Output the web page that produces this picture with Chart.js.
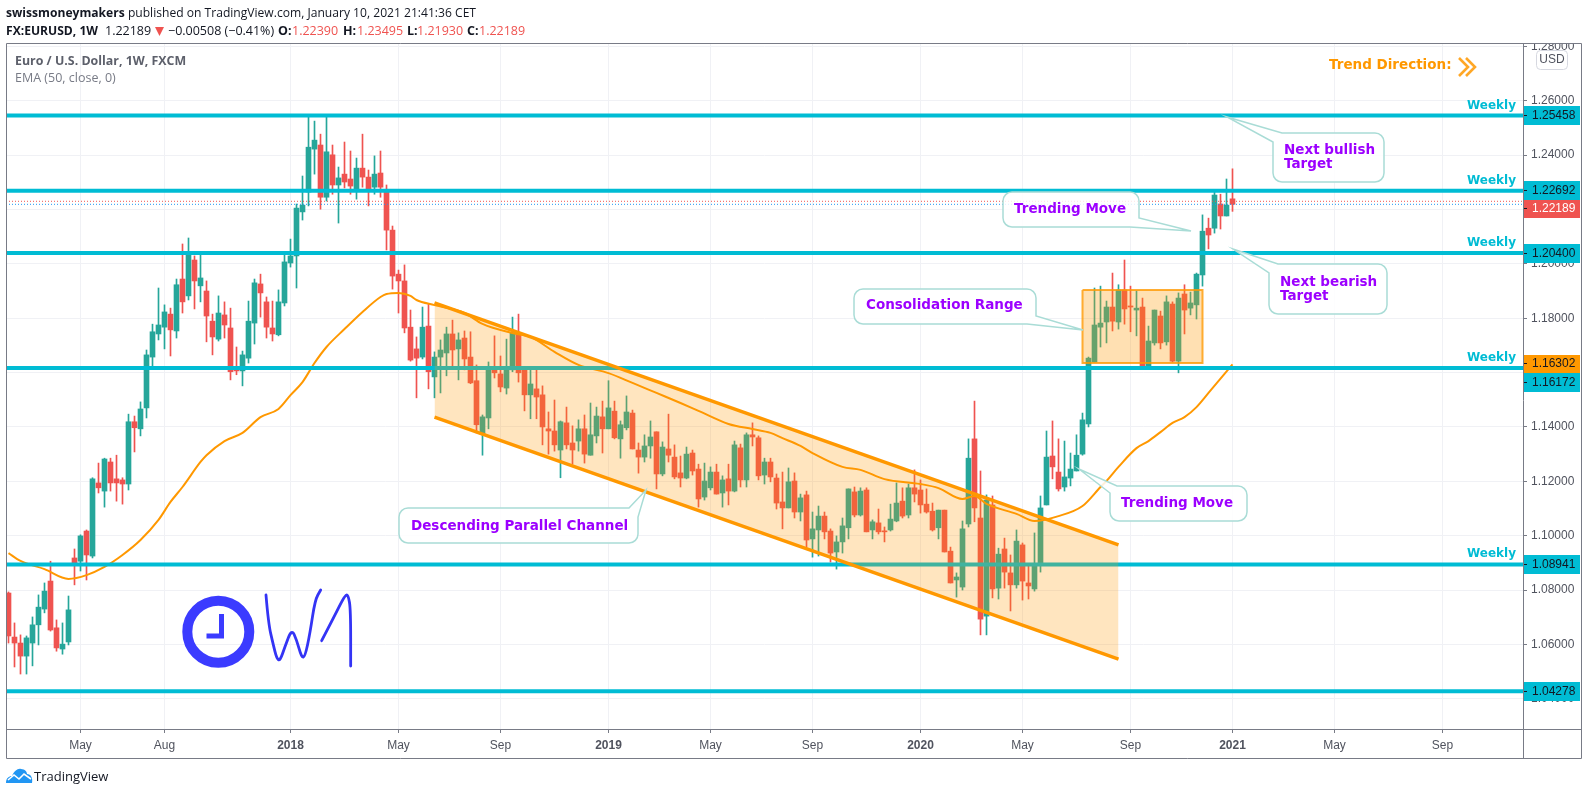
<!DOCTYPE html>
<html><head><meta charset="utf-8">
<script src="https://cdn.jsdelivr.net/npm/chart.js@4/dist/chart.umd.min.js"></script>
<style>
html,body{margin:0;padding:0;background:#fff;width:1588px;height:795px;overflow:hidden}
canvas{position:absolute;left:0;top:0}
.h{position:absolute;white-space:pre;color:#131722;font-family:"Open Sans",sans-serif;font-size:12.1px;line-height:16px}
.h b{font-weight:700}.r{color:#ef5350}
.v{font-size:12.5px;top:23px}
</style></head><body>
<canvas id="c" width="1588" height="795"></canvas>
<div class="h" style="left:6px;top:5px"><b>swissmoneymakers</b> published on TradingView.com, January 10, 2021 21:41:36 CET</div>
<div class="h v" style="left:6px;font-size:12.1px"><b>FX:EURUSD, 1W</b></div>
<div class="h v" style="left:105px">1.22189</div>
<svg style="position:absolute;left:155px;top:27px" width="9" height="9" viewBox="0 0 9 9"><path d="M0 0H9L4.5 9Z" fill="#ef5350"/></svg>
<div class="h v" style="left:168px">−0.00508 (−0.41%)</div>
<div class="h v" style="left:278px"><b>O:</b></div><div class="h v r" style="left:292px">1.22390</div>
<div class="h v" style="left:343px"><b>H:</b></div><div class="h v r" style="left:357px">1.23495</div>
<div class="h v" style="left:407px"><b>L:</b></div><div class="h v r" style="left:417px">1.21930</div>
<div class="h v" style="left:467px"><b>C:</b></div><div class="h v r" style="left:479px">1.22189</div>
<svg style="position:absolute;left:6px;top:768px" width="27" height="16" viewBox="0 0 27 16"><path d="M0 15 C0 10 3 8 6 8 C8 3 12 0 15 1 C19 1 21 4 21 6 C25 6 27 10 26 15 Z" fill="#2196f3"/><path d="M2 12 L8 7 L13 11 L18 6 L25 11" fill="none" stroke="#fff" stroke-width="1.6"/></svg>
<div class="h" style="left:34px;top:768px;font-size:13px;color:#131722">TradingView</div>
<script>
const opens=[1.0789,1.0627,1.0605,1.0557,1.0605,1.0672,1.0730,1.0833,1.0661,1.0583,1.0609,1.0918,1.0906,1.1017,1.0925,1.1194,1.1164,1.1271,1.1209,1.1205,
1.1190,1.1419,1.1393,1.1470,1.1657,1.1742,1.1767,1.1815,1.1753,1.1944,1.1882,1.2014,1.1919,1.1900,1.1789,1.1723,1.1812,1.1764,1.1610,1.1606,
1.1653,1.1782,1.1926,1.1860,1.1764,1.1739,1.1856,1.2003,1.2029,1.2191,1.2264,1.2422,1.2437,1.2245,1.2401,1.2290,1.2330,1.2312,1.2271,1.2352,
1.2319,1.2282,1.2334,1.2267,1.2124,1.1962,1.1937,1.1767,1.1687,1.1657,1.1771,1.1584,1.1657,1.1672,1.1742,1.1687,1.1727,1.1657,1.1570,1.1374,
1.1433,1.1610,1.1595,1.1543,1.1610,1.1746,1.1610,1.1518,1.1540,1.1518,1.1393,1.1385,1.1315,1.1415,1.1341,1.1348,1.1393,1.1296,1.1367,1.1437,
1.1393,1.1458,1.1356,1.1397,1.1451,1.1315,1.1289,1.1330,1.1382,1.1227,1.1319,1.1289,1.1231,1.1212,1.1304,1.1245,1.1142,1.1176,1.1234,1.1157,
1.1209,1.1164,1.1323,1.1205,1.1371,1.1360,1.1223,1.1271,1.1212,1.1124,1.1102,1.1201,1.1087,1.1150,1.0988,1.1021,1.1072,1.1017,1.0940,1.0977,
1.1029,1.1161,1.1076,1.1168,1.1021,1.1047,1.1017,1.1021,1.1054,1.1127,1.1076,1.1176,1.1168,1.1116,1.1090,1.1029,1.1094,1.0943,1.0837,1.0811,
1.1043,1.1356,1.1065,1.0704,1.1113,1.0807,1.0951,1.0863,1.0819,1.0966,1.0826,1.0804,1.0892,1.1113,1.1293,1.1234,1.1179,1.1212,1.1238,1.1300,
1.1411,1.1639,1.1767,1.1786,1.1841,1.1786,1.1904,1.1845,1.1830,1.1841,1.1620,1.1709,1.1808,1.1713,1.1852,1.1642,1.1889,1.1837,1.1849,1.1959,
1.2131,1.2131,1.2220,1.2176,1.22390];
const highs=[1.0793,1.0679,1.0635,1.0631,1.0701,1.0782,1.0826,1.0906,1.0690,1.0679,1.0778,1.0951,1.1003,1.1021,1.1213,1.1267,1.1285,1.1285,1.1296,1.1213,
1.1447,1.1440,1.1492,1.1683,1.1778,1.1911,1.1849,1.1837,1.1944,1.2073,1.2095,1.2029,1.2033,1.1937,1.1815,1.1882,1.1860,1.1837,1.1694,1.1679,
1.1863,1.1944,1.1962,1.1878,1.1863,1.1904,1.2036,1.2091,1.2220,1.2323,1.2540,1.2525,1.2477,1.2540,1.2437,1.2356,1.2448,1.2415,1.2389,1.2477,
1.2345,1.2397,1.2415,1.2290,1.2139,1.1977,1.1996,1.1830,1.1731,1.1841,1.1852,1.1676,1.1720,1.1767,1.1793,1.1746,1.1753,1.1750,1.1628,1.1444,
1.1639,1.1735,1.1661,1.1723,1.1804,1.1815,1.1613,1.1610,1.1610,1.1551,1.1455,1.1499,1.1422,1.1473,1.1404,1.1426,1.1444,1.1488,1.1473,1.1495,
1.1570,1.1495,1.1422,1.1514,1.1462,1.1341,1.1371,1.1422,1.1382,1.1345,1.1447,1.1334,1.1293,1.1326,1.1315,1.1263,1.1267,1.1253,1.1263,1.1220,
1.1263,1.1348,1.1337,1.1378,1.1415,1.1367,1.1285,1.1285,1.1227,1.1234,1.1249,1.1231,1.1153,1.1164,1.1087,1.1109,1.1087,1.1025,1.0999,1.1065,
1.1172,1.1179,1.1176,1.1176,1.1058,1.1098,1.1032,1.1116,1.1194,1.1176,1.1190,1.1242,1.1205,1.1172,1.1120,1.1094,1.1094,1.0958,1.0863,1.1054,
1.1356,1.1495,1.1238,1.1150,1.1146,1.0954,1.0991,1.0929,1.1021,1.0973,1.0892,1.1010,1.1146,1.1385,1.1422,1.1356,1.1348,1.1304,1.1371,1.1451,
1.1657,1.1911,1.1918,1.1863,1.1966,1.1923,1.2014,1.1918,1.1900,1.1874,1.1771,1.1830,1.1826,1.1882,1.1860,1.1893,1.1923,1.1896,1.1966,1.2180,
1.2168,1.2267,1.2256,1.2312,1.23495];
const lows=[1.0605,1.0517,1.0491,1.0491,1.0521,1.0598,1.0716,1.0649,1.0575,1.0564,1.0598,1.0819,1.0870,1.0837,1.0918,1.1157,1.1105,1.1164,1.1127,1.1116,
1.1168,1.1308,1.1367,1.1433,1.1624,1.1720,1.1687,1.1661,1.1727,1.1819,1.1867,1.1834,1.1860,1.1713,1.1665,1.1716,1.1727,1.1573,1.1592,1.1551,
1.1635,1.1705,1.1804,1.1727,1.1716,1.1735,1.1845,1.1988,1.1911,1.2161,1.2213,1.2330,1.2201,1.2231,1.2256,1.2150,1.2279,1.2256,1.2238,1.2282,
1.2213,1.2256,1.2245,1.2051,1.1907,1.1819,1.1746,1.1642,1.1507,1.1650,1.1540,1.1507,1.1525,1.1588,1.1617,1.1573,1.1610,1.1559,1.1378,1.1296,
1.1393,1.1580,1.1529,1.1521,1.1603,1.1565,1.1459,1.1430,1.1430,1.1334,1.1300,1.1311,1.1213,1.1319,1.1263,1.1311,1.1267,1.1296,1.1341,1.1304,
1.1393,1.1356,1.1285,1.1389,1.1319,1.1230,1.1271,1.1285,1.1172,1.1220,1.1271,1.1209,1.1179,1.1209,1.1223,1.1105,1.1131,1.1168,1.1153,1.1105,
1.1113,1.1161,1.1179,1.1179,1.1330,1.1205,1.1190,1.1198,1.1098,1.1025,1.1102,1.1065,1.1054,1.0958,1.0921,1.0925,1.0988,1.0903,1.0877,1.0936,
1.0988,1.1069,1.1072,1.1014,1.0988,1.1006,1.0977,1.1017,1.1051,1.1065,1.1065,1.1124,1.1083,1.1083,1.1017,1.0988,1.0940,1.0826,1.0774,1.0800,
1.1032,1.1051,1.0635,1.0635,1.0771,1.0767,1.0807,1.0723,1.0807,1.0763,1.0767,1.0796,1.0866,1.1113,1.1209,1.1164,1.1164,1.1183,1.1238,1.1296,
1.1400,1.1639,1.1694,1.1709,1.1753,1.1760,1.1778,1.1750,1.1735,1.1620,1.1620,1.1701,1.1687,1.1701,1.1639,1.1599,1.1742,1.1812,1.1797,1.1918,
1.2055,1.2113,1.2128,1.2176,1.21930];
const closes=[1.0631,1.0605,1.0557,1.0624,1.0672,1.0737,1.0796,1.0653,1.0587,1.0601,1.0727,1.0895,1.0999,1.0929,1.1209,1.1176,1.1282,1.1194,1.1194,1.1190,
1.1419,1.1397,1.1466,1.1665,1.1750,1.1775,1.1823,1.1757,1.1923,1.1860,1.2033,1.1937,1.1948,1.1808,1.1731,1.1819,1.1775,1.1603,1.1606,1.1665,
1.1789,1.1930,1.1893,1.1767,1.1742,1.1860,1.2007,1.2029,1.2205,1.2216,1.2429,1.2455,1.2245,1.2412,1.2290,1.2316,1.2301,1.2286,1.2352,1.2319,
1.2275,1.2330,1.2282,1.2124,1.1955,1.1937,1.1764,1.1646,1.1653,1.1767,1.1603,1.1657,1.1683,1.1742,1.1683,1.1720,1.1650,1.1562,1.1408,1.1437,
1.1610,1.1599,1.1547,1.1610,1.1746,1.1599,1.1518,1.1558,1.1510,1.1400,1.1385,1.1334,1.1419,1.1334,1.1315,1.1393,1.1300,1.1371,1.1440,1.1393,
1.1470,1.1360,1.1408,1.1455,1.1319,1.1289,1.1330,1.1363,1.1227,1.1326,1.1296,1.1216,1.1212,1.1300,1.1238,1.1135,1.1201,1.1234,1.1153,1.1205,
1.1164,1.1334,1.1205,1.1371,1.1363,1.1220,1.1271,1.1216,1.1120,1.1102,1.1198,1.1087,1.1139,1.0984,1.1025,1.1072,1.1014,1.0936,1.0977,1.1036,
1.1172,1.1076,1.1164,1.1014,1.1051,1.1014,1.1014,1.1061,1.1120,1.1072,1.1176,1.1153,1.1113,1.1087,1.1021,1.1094,1.0940,1.0826,1.0848,1.1025,
1.1285,1.1102,1.0693,1.1131,1.0804,1.0932,1.0866,1.0819,1.0980,1.0833,1.0815,1.0892,1.1102,1.1289,1.1253,1.1172,1.1216,1.1245,1.1296,1.1426,
1.1653,1.1775,1.1782,1.1841,1.1789,1.1904,1.1834,1.1841,1.1837,1.1620,1.1716,1.1830,1.1709,1.1860,1.1642,1.1874,1.1830,1.1856,1.1962,1.2120,
1.2106,1.2253,1.2176,1.2216,1.22189];

const emaBars=[0,2,6,10,13,16,19,22,25,27,29,32,33,36,39,42,45,47,49,51,53,56,59,62,63,65,67,68,71,76,79,84,87,91,95,100,104,108,112,115,120,124,127,129,132,134,139,142,146,152,155,159,161,163,168,171,175,179,182,183,185,188,190,192,194,196,198,200,204];
const emaValues=[1.0936,1.0907,1.0877,1.0841,1.0855,1.0885,1.0929,1.0984,1.1058,1.1124,1.1179,1.1271,1.1296,1.1348,1.1378,1.1436,1.1466,1.1517,1.1565,1.1635,1.1694,1.1760,1.1823,1.1878,1.1889,1.1893,1.1882,1.1867,1.1848,1.1819,1.1779,1.1745,1.1731,1.1676,1.1628,1.1598,1.1562,1.1525,1.1488,1.1459,1.1411,1.1392,1.1378,1.1359,1.1330,1.1304,1.1253,1.1242,1.1208,1.1190,1.1175,1.1135,1.1146,1.1117,1.1080,1.1054,1.1072,1.1109,1.1179,1.1201,1.1253,1.1322,1.1348,1.1381,1.1415,1.1436,1.1473,1.1525,1.16302];

const weeklyLevels=[1.25458,1.22692,1.20400,1.16172,1.08941,1.04278];
const lastClose=1.22189, lastOpenLine=1.2230, lastEma=1.16302;
const channelBars=[71,185], channelUpper=[1.1856,1.0966], channelLower=[1.1436,1.0546];
const rangeBars=[179,199], rangeHigh=1.1904, rangeLow=1.1635;
const priceTicks=[1.04,1.06,1.08,1.10,1.12,1.14,1.16,1.18,1.20,1.22,1.24,1.26,1.28];
const timeTickBars=[12,26,47,65,82,100,117,134,152,169,187,204,221,239];
const timeTickLabels=['May','Aug','2018','May','Sep','2019','May','Sep','2020','May','Sep','2021','May','Sep'];

const UP='#26a69a',DOWN='#ef5350',CY='#00bcd4',OR='#ff9800',PUR='#9c00ff';
const XMIN=(6-8.5)/6, XMAX=(1523-8.5)/6, YMAX=1.28123, YMIN=1.02888;
const AXF='"Liberation Sans",sans-serif', CALLF='"DejaVu Sans",sans-serif';
const idx=opens.map((_,i)=>i);
const colors=idx.map(i=>closes[i]>=opens[i]?UP:DOWN);
const flat=(v,c,w,o,dash)=>({type:'line',data:[{x:XMIN,y:v},{x:XMAX,y:v}],borderColor:c,borderWidth:w,pointRadius:0,order:o,borderDash:dash||[],fill:false});

const datasets=[
 {type:'bar',label:'wick',data:idx.map(i=>({x:i,y:[lows[i],highs[i]]})),backgroundColor:colors,barThickness:1,grouped:false,order:20},
 {type:'bar',label:'body',data:idx.map(i=>({x:i,y:[opens[i],closes[i]]})),backgroundColor:colors,barThickness:5,grouped:false,minBarLength:1,order:19},
 {type:'line',label:'EMA',data:emaBars.map((b,i)=>({x:b,y:emaValues[i]})),borderColor:OR,borderWidth:2,pointRadius:0,cubicInterpolationMode:'monotone',order:18,fill:false},
 flat(lastOpenLine,DOWN,1,17,[1,2]),
 flat(lastClose,'#2196f3',1,17,[1,2]),
 ...weeklyLevels.map(v=>flat(v,CY,4,16)),
 {type:'line',label:'channel top',data:channelBars.map((b,i)=>({x:b,y:channelUpper[i]})),borderColor:OR,borderWidth:3.5,pointRadius:0,order:5,fill:'+1',backgroundColor:'rgba(255,152,0,0.25)'},
 {type:'line',label:'channel bottom',data:channelBars.map((b,i)=>({x:b,y:channelLower[i]})),borderColor:OR,borderWidth:3.5,pointRadius:0,order:4,fill:false},
 {type:'line',label:'range top',data:rangeBars.map(b=>({x:b,y:rangeHigh})),borderWidth:0,pointRadius:0,order:3,fill:'+1',backgroundColor:'rgba(255,152,0,0.3)'},
 {type:'line',label:'range bottom',data:rangeBars.map(b=>({x:b,y:rangeLow})),borderWidth:0,pointRadius:0,order:2,fill:false},
 {type:'line',label:'range box',data:[{x:rangeBars[0],y:rangeHigh},{x:rangeBars[1],y:rangeHigh},{x:rangeBars[1],y:rangeLow},{x:rangeBars[0],y:rangeLow},{x:rangeBars[0],y:rangeHigh}],borderColor:'rgba(255,152,0,0.8)',borderWidth:2,pointRadius:0,order:1,fill:false}
];

const callouts=[
 {lines:['Next bullish','Target'],box:[1273,133,1384,182],corner:'tl',tip:[1227,117],a:[1273,142],b:[1282,133],tx:1284,ty:[150,164]},
 {lines:['Next bearish','Target'],box:[1269,264,1387,314],corner:'tl',tip:[1233,249],a:[1269,273],b:[1278,264],tx:1280,ty:[282,296]},
 {lines:['Trending Move'],box:[1003,192,1139,227],corner:'br',tip:[1191,231],a:[1139,218],b:[1130,227],tx:1014,ty:[209]},
 {lines:['Consolidation Range'],box:[854,289,1036,324],corner:'br',tip:[1083,330],a:[1036,316],b:[1027,324],tx:866,ty:[305]},
 {lines:['Descending Parallel Channel'],box:[399,508,638,543],corner:'tr',tip:[646,490],a:[629,508],b:[638,517],tx:411,ty:[526]},
 {lines:['Trending Move'],box:[1110,486,1247,521],corner:'tl',tip:[1079,469],a:[1110,493],b:[1117,486],tx:1121,ty:[503]}
];
const tags=[
 {t:'1.25458',y0:106,y1:125,bg:CY,fg:'#131722'},{t:'1.22692',y0:181,y1:200,bg:CY,fg:'#131722'},
 {t:'1.22189',y0:200,y1:218,bg:DOWN,fg:'#fff'},{t:'1.20400',y0:244,y1:263,bg:CY,fg:'#131722'},
 {t:'1.16302',y0:355,y1:373,bg:OR,fg:'#131722'},{t:'1.16172',y0:373,y1:392,bg:CY,fg:'#131722'},
 {t:'1.08941',y0:555,y1:574,bg:CY,fg:'#131722'},{t:'1.04278',y0:682,y1:701,bg:CY,fg:'#131722'}
];
function bubble(c,o){
 const [x0,y0,x1,y1]=o.box,r=9,pt=()=>{c.lineTo(o.a[0],o.a[1]);c.lineTo(o.tip[0],o.tip[1]);c.lineTo(o.b[0],o.b[1]);};
 c.beginPath();
 c.moveTo(x0+r,y0);
 if(o.corner==='tr')pt();else{c.lineTo(x1-r,y0);c.arcTo(x1,y0,x1,y0+r,r);}
 if(o.corner==='br')pt();else{c.lineTo(x1,y1-r);c.arcTo(x1,y1,x1-r,y1,r);}
 c.lineTo(x0+r,y1);c.arcTo(x0,y1,x0,y1-r,r);
 if(o.corner==='tl'){pt();}else{c.lineTo(x0,y0+r);c.arcTo(x0,y0,x0+r,y0,r);}
 c.closePath();
 c.fillStyle='rgba(255,255,255,0.85)';c.fill();
 c.strokeStyle='#a9dcd6';c.lineWidth=1.5;c.stroke();
 c.fillStyle=PUR;c.font='bold 13.5px '+CALLF;c.textAlign='left';c.textBaseline='middle';
 o.lines.forEach((l,i)=>c.fillText(l,o.tx,o.ty[i]));
}
const drawings={id:'drawings',afterDatasetsDraw(ch){
 const c=ch.ctx;c.save();
 callouts.forEach(o=>bubble(c,o));
 c.fillStyle=CY;c.font='bold 12px '+CALLF;c.textAlign='right';c.textBaseline='middle';
 [106,181,243,358,554].forEach(y=>c.fillText('Weekly',1516,y));
 c.fillStyle=OR;c.font='bold 13.5px '+CALLF;c.textAlign='left';c.fillText('Trend Direction:',1329,65);
 c.strokeStyle='#ffa726';c.lineWidth=2.6;
 [[1459,58],[1466,58]].forEach(([x,y])=>{c.beginPath();c.moveTo(x,y);c.lineTo(x+9,y+9);c.lineTo(x,y+18);c.stroke();});
 c.fillStyle='#5d606b';c.font='bold 12.4px "Open Sans",sans-serif';c.fillText('Euro / U.S. Dollar, 1W, FXCM',15,61);
 c.fillStyle='#787b86';c.font='12.5px "Open Sans",sans-serif';c.fillText('EMA (50, close, 0)',15,78);
 c.strokeStyle='#3b3bff';c.lineWidth=10;c.beginPath();c.arc(218.3,631.7,31,0,Math.PI*2);c.stroke();
 c.lineWidth=5;c.lineCap='butt';c.beginPath();c.moveTo(221.5,614);c.lineTo(221.5,636);c.lineTo(206.5,636);c.stroke();
 c.strokeStyle='#3434f5';c.lineWidth=2.8;c.lineJoin='round';c.lineCap='round';
 const scribble=[[[798,225],[805,310],[820,375],[830,415],[840,423],[855,380],[875,327],[890,360],[905,413],[915,410],[930,340],[945,240],[962,210]],[[965,362],[1000,295],[1035,225],[1045,225],[1052,270],[1052,438]]];
 scribble.forEach(s=>{const P=s.map(([x,y])=>[x/3,520+y/3]);c.beginPath();c.moveTo(P[0][0],P[0][1]);
  for(let i=1;i<P.length-1;i++){c.quadraticCurveTo(P[i][0],P[i][1],(P[i][0]+P[i+1][0])/2,(P[i][1]+P[i+1][1])/2);}
  c.lineTo(P[P.length-1][0],P[P.length-1][1]);c.stroke();});
 c.restore();
},afterDraw(ch){
 const c=ch.ctx;c.save();
 c.fillStyle='#fff';c.fillRect(0,0,1588,43);
 tags.forEach(t=>{c.fillStyle=t.bg;c.fillRect(1523,t.y0,57,t.y1-t.y0);
  c.fillStyle='#131722';c.fillRect(1524,Math.round((t.y0+t.y1)/2)-1,3,1);
  c.fillStyle=t.fg;c.font='12px '+AXF;c.textAlign='left';c.textBaseline='middle';c.fillText(t.t,1532,(t.y0+t.y1)/2);});
 c.strokeStyle='#787b86';c.lineWidth=1;c.beginPath();
 c.rect(6.5,43.5,1575,715);c.moveTo(1523.5,43);c.lineTo(1523.5,758);c.moveTo(6,729.5);c.lineTo(1582,729.5);c.stroke();
 c.fillStyle='#fff';c.strokeStyle='#d6d8e0';c.beginPath();c.roundRect(1536.5,50.5,31,19,4);c.fill();c.stroke();
 c.fillStyle='#50535e';c.font='12px '+AXF;c.textAlign='center';c.fillText('USD',1552,60);
 c.restore();
}};
new Chart(document.getElementById('c'),{
 type:'bar',
 data:{datasets},
 plugins:[drawings],
 options:{
  responsive:false,animation:false,devicePixelRatio:1,
  layout:{autoPadding:false,padding:{left:6,top:43,right:6,bottom:37}},
  plugins:{legend:{display:false},tooltip:{enabled:false},title:{display:false}},
  elements:{line:{tension:0}},
  scales:{
   x:{type:'linear',min:XMIN,max:XMAX,offset:false,
      afterBuildTicks:s=>{s.ticks=timeTickBars.map(v=>({value:v}));},
      afterFit:s=>{s.height=29;},
      grid:{offset:false,color:'#f0f1f5',tickColor:'#787b86',tickLength:4,drawTicks:true},
      border:{display:false},
      ticks:{autoSkip:false,maxRotation:0,minRotation:0,padding:5,color:'#50535e',
        font:c=>({family:AXF,size:12,weight:/^\d/.test(timeTickLabels[c.index]||'')?'bold':'normal'}),
        callback:(v,i)=>timeTickLabels[i]}},
   y:{type:'linear',position:'right',min:YMIN,max:YMAX,
      afterBuildTicks:s=>{s.ticks=priceTicks.map(v=>({value:v}));},
      afterFit:s=>{s.width=59;},
      grid:{color:'#f0f1f5',tickColor:'#787b86',tickLength:4},
      border:{display:false},
      ticks:{padding:4,color:'#50535e',font:{family:AXF,size:12},callback:v=>v.toFixed(5)}}
  }
 }
});
</script>
</body></html>
